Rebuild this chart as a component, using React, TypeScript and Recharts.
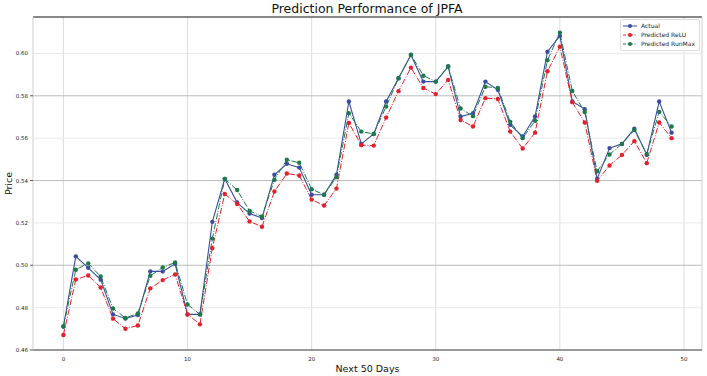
import { LineChart, Line, XAxis, YAxis, CartesianGrid, ReferenceLine, Label } from 'recharts'

const actual = [
  0.4711, 0.5042, 0.4988, 0.4932, 0.4768, 0.4749, 0.4765, 0.4971, 0.4971, 0.5007,
  0.4768, 0.4768, 0.5205, 0.5408, 0.5296, 0.5244, 0.5223, 0.5427, 0.5479, 0.5461,
  0.5333, 0.5333, 0.5427, 0.5773, 0.5573, 0.5620, 0.5773, 0.5883, 0.5993, 0.5867,
  0.5867, 0.5938, 0.5702, 0.5718, 0.5867, 0.5828, 0.5663, 0.5608, 0.5702, 0.6008,
  0.6083, 0.5773, 0.5737, 0.5408, 0.5553, 0.5573, 0.5645, 0.5521, 0.5773, 0.5626,
]
const predictedRelu = [
  0.4671, 0.4933, 0.4952, 0.4895, 0.4748, 0.4700, 0.4716, 0.4891, 0.4930, 0.4957,
  0.4768, 0.4721, 0.5081, 0.5337, 0.5289, 0.5207, 0.5182, 0.5348, 0.5433, 0.5424,
  0.5310, 0.5282, 0.5362, 0.5672, 0.5567, 0.5565, 0.5697, 0.5822, 0.5933, 0.5837,
  0.5808, 0.5875, 0.5686, 0.5655, 0.5789, 0.5785, 0.5631, 0.5551, 0.5626, 0.5916,
  0.6032, 0.5770, 0.5674, 0.5399, 0.5471, 0.5521, 0.5586, 0.5482, 0.5674, 0.5600,
]
const predictedRunMax = [
  0.4711, 0.4979, 0.5009, 0.4947, 0.4796, 0.4751, 0.4773, 0.4950, 0.4990, 0.5013,
  0.4815, 0.4768, 0.5126, 0.5408, 0.5355, 0.5257, 0.5230, 0.5403, 0.5498, 0.5484,
  0.5359, 0.5333, 0.5416, 0.5718, 0.5631, 0.5620, 0.5749, 0.5883, 0.5994, 0.5895,
  0.5867, 0.5938, 0.5740, 0.5704, 0.5843, 0.5837, 0.5677, 0.5600, 0.5682, 0.5968,
  0.6098, 0.5823, 0.5723, 0.5444, 0.5523, 0.5573, 0.5638, 0.5526, 0.5724, 0.5655,
]

const xTicks = [0, 10, 20, 30, 40, 50]
const yTicks = [0.46, 0.48, 0.5, 0.52, 0.54, 0.56, 0.58, 0.6]
const yMajor = [0.46, 0.5, 0.54, 0.58]

const rows = actual.map((v, i) => ({
  day: i,
  actual: v,
  relu: predictedRelu[i],
  runmax: predictedRunMax[i],
}))

const FONT = 'DejaVu Sans, sans-serif'
const BLUE = '#3a4d9e'
const RED = '#e3202c'
const GREEN = '#1b7a47'
const DASHDOT = '6 1.6 1 1.6'

const series = [
  { key: 'actual', name: 'Actual', color: BLUE, dash: undefined },
  { key: 'relu', name: 'Predicted ReLU', color: RED, dash: DASHDOT },
  { key: 'runmax', name: 'Predicted RunMax', color: GREEN, dash: DASHDOT },
]

const isMajor = (v: number) => yMajor.some(m => Math.abs(m - v) < 1e-6)

const YTick = (props: any) => {
  const { y, payload } = props
  return (
    <g>
      {isMajor(payload.value) && <line x1={30} x2={33} y1={y} y2={y} stroke="#333" strokeWidth={0.8} />}
      <text x={28} y={y} dy={2} textAnchor="end" fontSize={5.5} fill="#222" fontFamily={FONT}>
        {payload.value.toFixed(2)}
      </text>
    </g>
  )
}

function LegendBox() {
  return (
    <div style={{
      position: 'absolute', top: 19, right: 7, whiteSpace: 'nowrap',
      border: '1px solid #ddd', borderRadius: 2, background: 'rgba(255,255,255,0.85)',
      padding: '1px 4px 2px 2px', fontFamily: FONT, fontSize: 6, color: '#222', lineHeight: '9px',
    }}>
      {series.map(s => (
        <div key={s.key} style={{ display: 'flex', alignItems: 'center' }}>
          <svg width={14} height={6} style={{ marginRight: 4 }}>
            <line x1={0} x2={14} y1={3} y2={3} stroke={s.color} strokeWidth={1}
              strokeDasharray={s.dash ? '3 1.5 1 1.5' : undefined} />
            <circle cx={7} cy={3} r={2} fill={s.color} />
          </svg>
          {s.name}
        </div>
      ))}
    </div>
  )
}

export default function App() {
  return (
    <div style={{ position: 'relative', width: 707, height: 376, background: '#fff' }}>
      <style>{'body{margin:0}'}</style>
      <LineChart width={707} height={376} data={rows} margin={{ top: 17, right: 5, bottom: 0, left: 0 }}>
        <text x={367} y={13} textAnchor="middle" fontSize={12.5} fontFamily={FONT} fill="#111">
          Prediction Performance of JPFA
        </text>
        <text x={12} y={183.5} textAnchor="middle" fontSize={9.5} fontFamily={FONT} fill="#111"
          transform="rotate(-90 12 183.5)">
          Price
        </text>
        <CartesianGrid horizontal={false} stroke="#d4d4d4" strokeWidth={0.8} />
        <XAxis
          dataKey="day"
          type="number"
          domain={[-2.45, 51.45]}
          ticks={xTicks}
          allowDataOverflow
          height={26}
          tickLine={false}
          axisLine={{ stroke: '#333', strokeWidth: 1 }}
          tick={{ fontSize: 5.5, fill: '#222', fontFamily: FONT }}
          tickMargin={1}
        >
          <Label value="Next 50 Days" position="insideBottom" offset={4} fontSize={9.5} fill="#111" fontFamily={FONT} />
        </XAxis>
        <YAxis
          type="number"
          domain={[0.46, 0.6172]}
          ticks={yTicks}
          allowDataOverflow
          width={33}
          tickLine={false}
          axisLine={{ stroke: '#dcdcdc', strokeWidth: 0.8 }}
          tick={<YTick />}
        />
        {yTicks.filter(t => t > 0.46).map(t => (
          <ReferenceLine key={t} y={t} stroke={isMajor(t) ? '#b4b4b4' : '#e6e6e6'} strokeWidth={0.9} />
        ))}
        <ReferenceLine y={0.6172} stroke="#111" strokeWidth={1} />
        <ReferenceLine x={51.45} stroke="#dcdcdc" strokeWidth={0.8} />
        {series.map(s => (
          <Line key={s.key} dataKey={s.key} name={s.name} stroke={s.color}
            strokeWidth={s.dash ? 1 : 1.1} strokeDasharray={s.dash}
            dot={{ r: 2.2, fill: s.color, stroke: s.color, strokeWidth: 0, strokeDasharray: '' }}
            isAnimationActive={false} />
        ))}
      </LineChart>
      <LegendBox />
    </div>
  )
}
